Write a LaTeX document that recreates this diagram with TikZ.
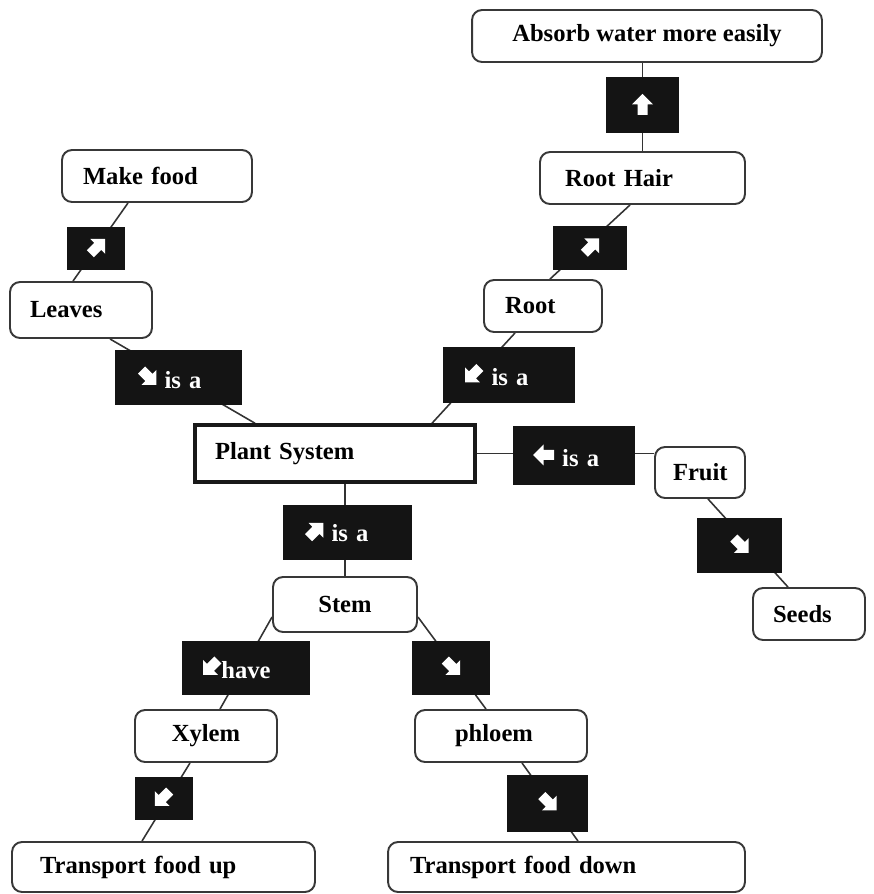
\documentclass[tikz,border=0pt]{standalone}
\usepackage{fontspec}
\setmainfont{Liberation Serif}
\usetikzlibrary{backgrounds}
% white block arrow pointing in direction #1 (degrees)
\newcommand\glyph[1]{\tikz[baseline=-1ex]\fill[white,rotate=#1-90] (0,0.22cm)--(0.21cm,0.01cm)--(0.1cm,0.01cm)--(0.1cm,-0.2cm)--(-0.1cm,-0.2cm)--(-0.1cm,0.01cm)--(-0.21cm,0.01cm)--cycle;}
\tikzset{
  wbox/.style={draw=black!78, line width=1.1pt, rounded corners=0.2cm, fill=white,
    font=\bfseries\fontsize{14}{16}\selectfont, inner ysep=0pt},
  lab/.style={fill=black!92, text=white, font=\bfseries\fontsize{14}{16}\selectfont, inner ysep=0pt},
  conn/.style={draw=black!80, line width=0.9pt}
}
\begin{document}
\begin{tikzpicture}[x=0.02cm,y=-0.02cm]
\useasboundingbox (0,0) rectangle (874,894);

% concept boxes
\node[wbox, minimum width=7cm, minimum height=1.04cm] (absorb) at (647,36) {Absorb water more easily};
\node[wbox, align=left, text width=3.1cm, inner xsep=0.5cm, minimum height=1.04cm] (roothair) at (642.5,178) {Root Hair};
\node[wbox, align=left, text width=2.96cm, inner xsep=0.42cm, minimum height=1.04cm] (makefood) at (157,176) {Make food};
\node[wbox, align=left, text width=2.04cm, inner xsep=0.4cm, minimum height=1.12cm] (leaves) at (81,310) {Leaves};
\node[wbox, align=left, text width=1.52cm, inner xsep=0.42cm, minimum height=1.04cm] (root) at (543,306) {Root};
\node[wbox, draw=black!90, line width=2pt, sharp corners, align=left, text width=4.8cm, inner xsep=0.4cm, minimum height=1.14cm] (plant) at (335,453.5) {Plant System};
\node[wbox, align=left, text width=1.08cm, inner xsep=0.36cm, minimum height=1.02cm] (fruit) at (700,472.5) {Fruit};
\node[wbox, align=left, text width=1.44cm, inner xsep=0.4cm, minimum height=1.04cm] (seeds) at (809,614) {Seeds};
\node[wbox, minimum width=2.88cm, minimum height=1.1cm] (stem) at (345,604.5) {Stem};
\node[wbox, minimum width=2.84cm, minimum height=1.04cm] (xylem) at (206,736) {Xylem};
\node[wbox, align=left, text width=1.84cm, inner xsep=0.8cm, minimum height=1.04cm] (phloem) at (501,736) {phloem};
\node[wbox, align=left, text width=4.94cm, inner xsep=0.56cm, minimum height=1.0cm] (tfu) at (163.5,867) {Transport food up};
\node[wbox, align=left, text width=6.26cm, inner xsep=0.44cm, minimum height=1.0cm] (tfd) at (566.5,867) {Transport food down};

% link labels
\node[lab, minimum width=1.46cm, minimum height=1.12cm] (la) at (642.5,105) {\glyph{90}};
\node[lab, minimum width=1.16cm, minimum height=0.86cm] (lb) at (96,248.5) {\glyph{45}};
\node[lab, align=left, text width=1.62cm, inner xsep=0.46cm, minimum height=1.1cm] (lc) at (178.5,377.5) {\glyph{-45} is a};
\node[lab, align=left, text width=1.76cm, inner xsep=0.44cm, minimum height=1.12cm] (ld) at (509,375) {\glyph{225} is a};
\node[lab, align=left, text width=1.64cm, inner xsep=0.4cm, minimum height=1.18cm] (le) at (574,455.5) {\glyph{180} is a};
\node[lab, minimum width=1.48cm, minimum height=0.88cm] (lf) at (590,248) {\glyph{45}};
\node[lab, align=left, text width=1.7cm, inner xsep=0.44cm, minimum height=1.1cm] (lg) at (347.5,532.5) {\glyph{45} is a};
\node[lab, align=left, text width=1.72cm, inner xsep=0.42cm, minimum height=1.08cm] (lh) at (246,667.5) {\glyph{225}have};
\node[lab, minimum width=1.56cm, minimum height=1.08cm] (li) at (451,667.5) {\glyph{-45}};
\node[lab, minimum width=1.7cm, minimum height=1.1cm] (lj) at (739.5,545.5) {\glyph{-45}};
\node[lab, minimum width=1.16cm, minimum height=0.86cm] (lk) at (164,798.5) {\glyph{225}};
\node[lab, minimum width=1.62cm, minimum height=1.14cm] (ll) at (547.5,803) {\glyph{-45}};

% connectors
\begin{scope}[on background layer]
\draw[conn] (absorb.south -| roothair.north) -- (roothair.north);
\draw[conn] ([xshift=-0.58cm]makefood.south) -- ([xshift=-0.16cm]leaves.north);
\draw[conn] ([xshift=0.58cm]leaves.south) -- ([xshift=-1.6cm]plant.north);
\draw[conn] ([xshift=-0.56cm]root.south) -- ([xshift=1.94cm]plant.north);
\draw[conn] ([xshift=-0.25cm]roothair.south) -- ([xshift=0.14cm]root.north);
\draw[conn] (plant.east) -- (plant.east -| fruit.west);
\draw[conn] ([xshift=0.16cm]fruit.south) -- ([xshift=-0.42cm]seeds.north);
\draw[conn] (plant.south -| stem.north) -- (stem.north);
\draw[conn] ([yshift=-0.25cm]stem.west) -- ([xshift=0.28cm]xylem.north);
\draw[conn] ([yshift=-0.25cm]stem.east) -- ([xshift=-0.3cm]phloem.north);
\draw[conn] ([xshift=-0.32cm]xylem.south) -- ([xshift=-0.43cm]tfu.north);
\draw[conn] ([xshift=0.42cm]phloem.south) -- ([xshift=0.23cm]tfd.north);
\end{scope}
\end{tikzpicture}
\end{document}
